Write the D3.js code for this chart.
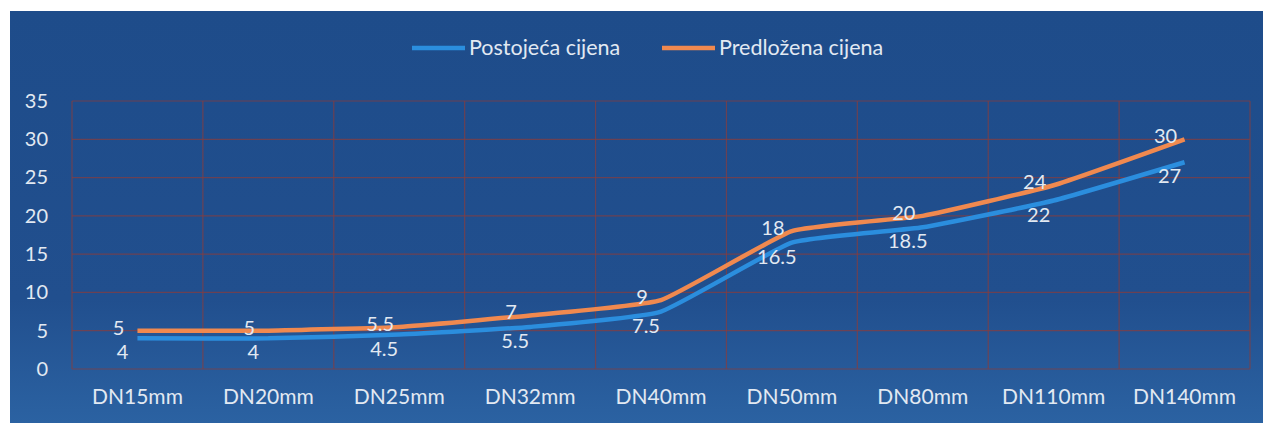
<!DOCTYPE html>
<html>
<head>
<meta charset="utf-8">
<script src="https://cdn.jsdelivr.net/npm/d3@7"></script>
<style>
  html, body { margin: 0; padding: 0; background: #ffffff; }
  svg { display: block; font-family: Lato, "Open Sans", sans-serif; }
</style>
</head>
<body>
<div id="chart"></div>
<script>
const categories = ["DN15mm", "DN20mm", "DN25mm", "DN32mm", "DN40mm", "DN50mm", "DN80mm", "DN110mm", "DN140mm"];
const postojeca = [4, 4, 4.5, 5.5, 7.5, 16.5, 18.5, 22, 27];
const predlozena = [5, 5, 5.5, 7, 9, 18, 20, 24, 30];
const seriesNames = ["Postojeća cijena", "Predložena cijena"];
const yTicks = [0, 5, 10, 15, 20, 25, 30, 35];

const WIDTH = 1263;
const HEIGHT = 423;
const PLOT = {left: 72, right: 1250, top: 101, bottom: 369};
const BLUE = "#2b8ede";
const ORANGE = "#f0894f";
const GRID = "rgba(140, 60, 58, 0.7)";
const TEXT = "#e2e9f2";

const svg = d3.select("#chart")
  .append("svg")
  .attr("width", WIDTH)
  .attr("height", HEIGHT);

// background panel
const grad = svg.append("defs")
  .append("linearGradient")
  .attr("id", "bg")
  .attr("x1", 0).attr("y1", 0)
  .attr("x2", 0).attr("y2", 1);
grad.append("stop").attr("offset", "0%").attr("stop-color", "#1e4c8a");
grad.append("stop").attr("offset", "70%").attr("stop-color", "#214f8e");
grad.append("stop").attr("offset", "100%").attr("stop-color", "#2b62a2");

svg.append("rect")
  .attr("x", 10)
  .attr("y", 11)
  .attr("width", WIDTH - 10)
  .attr("height", HEIGHT - 11)
  .attr("fill", "url(#bg)");

// scales
const xScale = d3.scaleBand()
  .domain(categories)
  .range([PLOT.left, PLOT.right]);
const yScale = d3.scaleLinear()
  .domain([0, 35])
  .range([PLOT.bottom, PLOT.top]);
const cx = (d) => xScale(d) + xScale.bandwidth() / 2;

// gridlines
svg.append("g")
  .selectAll("line")
  .data(yTicks)
  .enter()
  .append("line")
  .attr("x1", PLOT.left)
  .attr("x2", PLOT.right)
  .attr("y1", (d) => yScale(d))
  .attr("y2", (d) => yScale(d))
  .attr("stroke", GRID)
  .attr("stroke-width", 1.2);

const vLines = categories.map((c) => xScale(c)).concat([PLOT.right]);
svg.append("g")
  .selectAll("line")
  .data(vLines)
  .enter()
  .append("line")
  .attr("x1", (d) => d)
  .attr("x2", (d) => d)
  .attr("y1", PLOT.top)
  .attr("y2", PLOT.bottom)
  .attr("stroke", GRID)
  .attr("stroke-width", 1.2);

// axes (labels only)
const yAxis = d3.axisLeft(yScale)
  .tickValues(yTicks)
  .tickSize(0)
  .tickPadding(0);
const gy = svg.append("g")
  .attr("transform", "translate(48,0)")
  .call(yAxis);
gy.select(".domain").remove();
gy.selectAll("text")
  .attr("fill", TEXT)
  .style("font-size", "20px")
  .style("font-family", "Lato, sans-serif");

const xAxis = d3.axisBottom(xScale)
  .tickSize(0)
  .tickPadding(0);
const gx = svg.append("g")
  .attr("transform", "translate(0,389)")
  .call(xAxis);
gx.select(".domain").remove();
gx.selectAll("text")
  .attr("fill", TEXT)
  .style("font-size", "21px")
  .style("font-family", "Lato, sans-serif");

// lines
const line = d3.line()
  .x((d, i) => cx(categories[i]))
  .y((d) => yScale(d))
  .curve(d3.curveCardinal.tension(0.6));

svg.append("path")
  .datum(postojeca)
  .attr("d", line)
  .attr("fill", "none")
  .attr("stroke", BLUE)
  .attr("stroke-width", 4.5)
  .attr("stroke-linejoin", "round");

svg.append("path")
  .datum(predlozena)
  .attr("d", line)
  .attr("fill", "none")
  .attr("stroke", ORANGE)
  .attr("stroke-width", 4.5)
  .attr("stroke-linejoin", "round");

// data labels
svg.append("g")
  .selectAll("text")
  .data(predlozena)
  .enter()
  .append("text")
  .text((d) => d)
  .attr("x", (d, i) => cx(categories[i]) - 19)
  .attr("y", (d) => yScale(d) + 4)
  .attr("text-anchor", "middle")
  .attr("fill", TEXT)
  .style("font-size", "20px");

svg.append("g")
  .selectAll("text")
  .data(postojeca)
  .enter()
  .append("text")
  .text((d) => d)
  .attr("x", (d, i) => cx(categories[i]) - 15)
  .attr("y", (d) => yScale(d) + 21)
  .attr("text-anchor", "middle")
  .attr("fill", TEXT)
  .style("font-size", "20px");

// legend
const legend = svg.append("g").attr("id", "legend");
const legendItems = [
  {x: 412, color: BLUE, text: seriesNames[0]},
  {x: 662, color: ORANGE, text: seriesNames[1]}
];
legend.selectAll("line")
  .data(legendItems)
  .enter()
  .append("line")
  .attr("x1", (d) => d.x)
  .attr("x2", (d) => d.x + 53)
  .attr("y1", 48)
  .attr("y2", 48)
  .attr("stroke", (d) => d.color)
  .attr("stroke-width", 4.5);
legend.selectAll("text")
  .data(legendItems)
  .enter()
  .append("text")
  .text((d) => d.text)
  .attr("x", (d) => d.x + 57)
  .attr("y", 55)
  .attr("fill", TEXT)
  .style("font-size", "21.5px");
</script>
</body>
</html>
